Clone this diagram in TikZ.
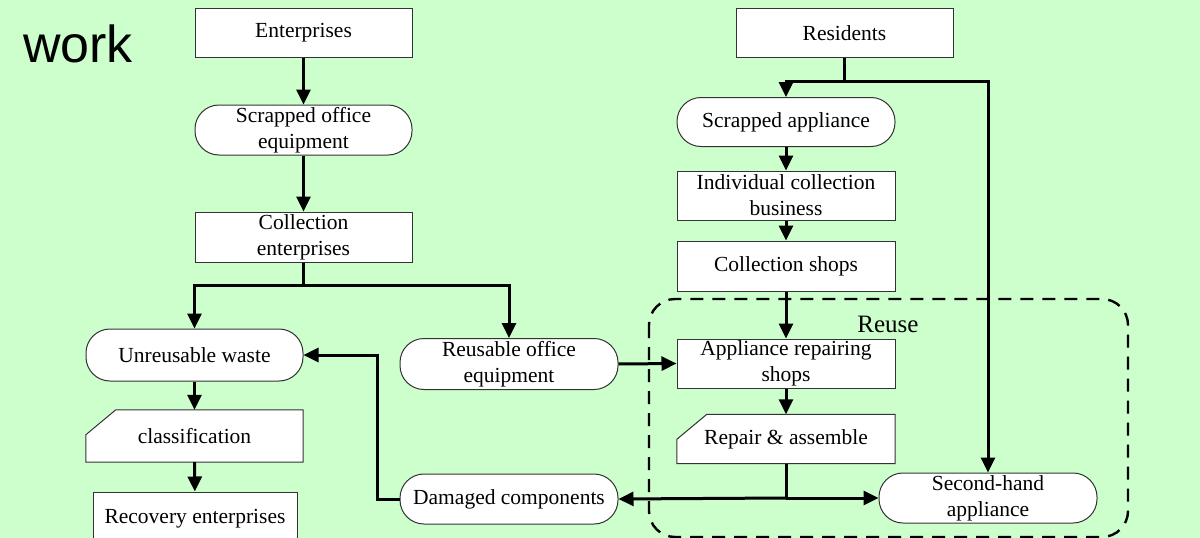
\documentclass[tikz,border=0pt]{standalone}
\usepackage{fontspec}
\setmainfont{Liberation Serif}
\newfontfamily\sansf{Liberation Sans}
\usetikzlibrary{arrows.meta,calc}
\pgfdeclarelayer{bglayer}
\pgfdeclarelayer{shplayer}
\pgfsetlayers{bglayer,shplayer,main}
\definecolor{bgg}{HTML}{CCFFCC}
\definecolor{edgec}{HTML}{333333}
\tikzset{
  basebox/.style={font=\fontsize{21.5}{26}\selectfont, align=center, inner sep=0pt,
    minimum width=217pt, minimum height=49pt},
  rectbox/.style={basebox, draw=edgec, line width=1pt, fill=white},
  stadium/.style={basebox, draw=edgec, line width=1pt, fill=white, rounded corners=24pt},
  cutbox/.style={basebox},
  arr/.style={line width=3pt, -{Triangle[length=15pt,width=14pt]}},
  ln/.style={line width=3pt},
  reusebox/.style={line width=2.4pt, dash pattern=on 13pt off 9pt, rounded corners=26pt},
}
\newcommand\cutshape[1]{%
  \begin{pgfonlayer}{shplayer}
    \filldraw[draw=edgec, line width=1pt, fill=white]
      ($(#1.north west)+(30,0)$) -- (#1.north east) -- (#1.south east)
      -- (#1.south west) -- ($(#1.north west)+(0,25)$) -- cycle;
  \end{pgfonlayer}}
\begin{document}
\begin{tikzpicture}[x=1pt, y=-1pt]
  \begin{pgfonlayer}{bglayer}
    \fill[bgg] (0,0) rectangle (1200,538);
  \end{pgfonlayer}
  \useasboundingbox (0,0) rectangle (1200,538);

  \node[anchor=base west, inner sep=0pt, font=\sansf\fontsize{52}{60}\selectfont] (work) at (23,62) {work};

  % left column
  \node[rectbox] (ent) at (303.5,33) {Enterprises};
  \node[stadium, minimum height=50pt] (sof) at (303.5,130) {Scrapped office\\equipment};
  \node[rectbox, minimum height=50pt] (ce) at (303.5,237) {Collection\\enterprises};
  \node[stadium, minimum height=52pt] (uw) at (194.5,355) {Unreusable waste};
  \node[stadium, minimum width=218pt, minimum height=51pt] (roe) at (509,364) {Reusable office\\equipment};
  \node[cutbox, minimum height=52pt] (cls) at (194.5,436) {classification};
  \cutshape{cls}
  \node[rectbox, minimum width=204pt, minimum height=54pt] (rec) at (195,519) {Recovery enterprises};
  \node[stadium, minimum width=218pt, minimum height=50pt] (dc) at (509,499) {Damaged components};

  % right column
  \node[rectbox] (res) at (844.5,33) {Residents};
  \node[stadium, minimum width=218pt] (sa) at (786,122) {Scrapped appliance};
  \node[rectbox, minimum width=218pt] (icb) at (786,195.5) {Individual collection\\business};
  \node[rectbox, minimum width=218pt, minimum height=50pt] (cs) at (786,266) {Collection shops};
  \node[rectbox, minimum width=218pt] (ars) at (786,363.5) {Appliance repairing\\shops};
  \node[cutbox, minimum width=218pt] (ra) at (786,439) {Repair \& assemble};
  \cutshape{ra}
  \node[stadium, minimum width=218pt, minimum height=50pt] (sh) at (988,498) {Second-hand\\appliance};

  % reuse region
  \draw[reusebox] (649,299) rectangle (1128,537);
  \node[font=\fontsize{25}{30}\selectfont, inner sep=0pt] (reuse) at (888,324) {Reuse};

  % connectors, left
  \draw[arr] (ent) -- (sof);
  \draw[arr] (sof) -- (ce);
  \coordinate (j0) at (303.5,285);
  \draw[ln] (ce.south) -- (j0);
  \draw[arr] (j0) -| (uw.north);
  \draw[arr] (j0) -| (roe.north);
  \draw[arr] (uw) -- (cls);
  \draw[arr] (cls) -- (rec);
  \coordinate (jd) at (377,499);
  \draw[arr] (dc.west) -- (jd) |- (uw.east);
  \draw[arr] (roe.east) -- (ars.west);

  % connectors, right
  \coordinate (j1) at (844.5,81);
  \draw[ln] (res.south) -- (j1);
  \draw[arr] (j1) -| (sa.north);
  \draw[arr] (j1) -| (sh.north);
  \draw[arr] (sa) -- (icb);
  \draw[arr] (icb) -- (cs);
  \draw[arr] (cs) -- (ars);
  \draw[arr] (ars) -- (ra);
  \coordinate (j2) at (786,498);
  \draw[ln] (ra.south) -- (j2);
  \draw[arr] (j2) -- (dc.east);
  \draw[arr] (j2) -- (sh.west);
\end{tikzpicture}
\end{document}
